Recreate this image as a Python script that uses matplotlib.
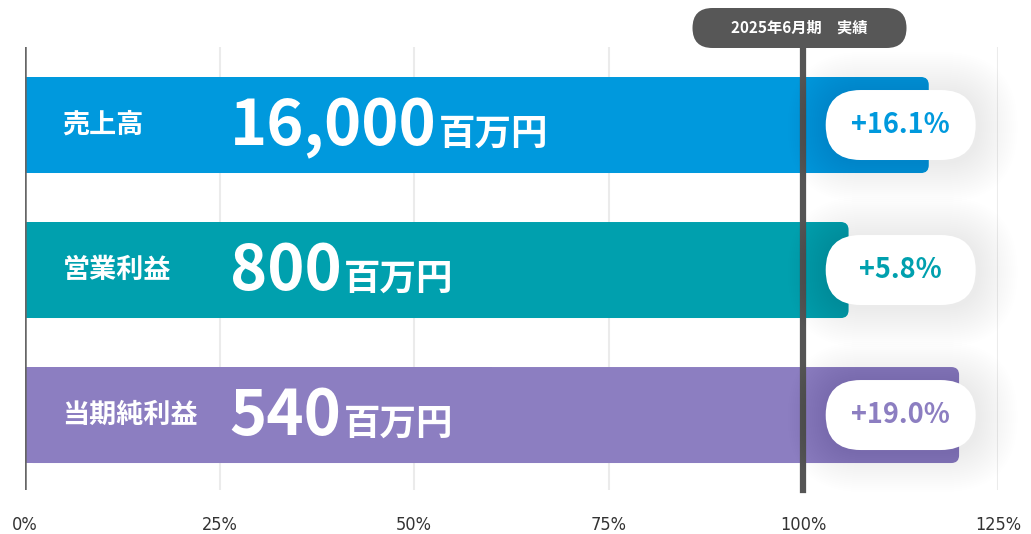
import matplotlib.pyplot as plt
from matplotlib.patches import FancyBboxPatch
from matplotlib.transforms import IdentityTransform
import numpy as np

plt.rcParams['font.family'] = ['Noto Sans CJK JP', 'DejaVu Sans']

# data
categories = ['売上高', '営業利益', '当期純利益']
bar_pct = [116.1, 105.8, 120.0]          # bar length (% of plan)
amounts = ['16,000', '800', '540']
unit = '百万円'
growth = ['+16.1%', '+5.8%', '+19.0%']
colors = ['#0099dd', '#00a0ae', '#8c7ec1']
xticks = [0, 25, 50, 75, 100, 125]
xtick_labels = ['0%', '25%', '50%', '75%', '100%', '125%']
badge_text = '2025年6月期\u3000実績'

W, H = 1031, 534
fig = plt.figure(figsize=(W / 100, H / 100), dpi=100)
ax = fig.add_axes([25 / W, 44 / H, 973 / W, 443 / H])
ax.set_xlim(0, 125)
ax.set_ylim(2.517, -0.538)
for s in ax.spines.values():
    s.set_visible(False)
ax.set_yticks([])
ax.set_xticks(xticks, xtick_labels, fontfamily='DejaVu Sans', fontstretch='condensed')
ax.tick_params(axis='x', length=0, pad=19, labelsize=13, labelcolor='#333333')
ax.set_axisbelow(True)
ax.xaxis.grid(True, color='#ebebeb', lw=1.5)

ypos = np.arange(len(categories))
rects = ax.barh(ypos, bar_pct, height=0.662, color=colors, zorder=2)

# rounded right end of the bars
asp = (3.055 / 443) / (125 / 973)
for r, c in zip(rects, colors):
    x0, y0 = r.get_xy()
    w, h = r.get_width(), r.get_height()
    r.set_width(w / 2)
    ax.add_patch(FancyBboxPatch((x0, y0), w, h, boxstyle='round,pad=0,rounding_size=1.0',
                                mutation_aspect=asp, fc=c, ec='none', zorder=2))

ax.axvline(0, color='#666666', lw=1.8, zorder=3)
ax.axvline(100, ymax=1.02, color='#555555', lw=4.5, zorder=3, clip_on=False)


def pill(cx, cy, w, h, **kw):
    p = FancyBboxPatch((cx - w / 2, cy - h / 2), w, h,
                       boxstyle=f'round,pad=0,rounding_size={h / 2}',
                       transform=IdentityTransform(), clip_on=False, **kw)
    ax.add_patch(p)


renderer = fig.canvas.get_renderer()
base = 0.138
for i, (cat, amt, g, c) in enumerate(zip(categories, amounts, growth, colors)):
    ax.text(4.8, i, cat, color='white', fontsize=19.5, fontweight='bold', va='center', zorder=4)
    t = ax.text(26.3, i + base, amt, color='white', fontsize=45.5, fontweight='bold',
                va='baseline', zorder=4)
    bb = t.get_window_extent(renderer)
    ux = ax.transData.inverted().transform((bb.x1 + 2, 0))[0]
    ax.text(ux, i + base, unit, color='white', fontsize=26.3, fontweight='bold',
            va='baseline', zorder=4)

    cx, cy = ax.transData.transform((112.5, i))
    for k in range(20, 0, -1):
        pill(cx + 2, cy - 2, 150 + 4 * k, 70 + 4 * k, fc='#000000', ec='none', alpha=0.0025, zorder=5)
    pill(cx, cy, 150, 70, fc='white', ec='none', zorder=6)
    ax.text(112.5, i, g, color=c, fontsize=19.5, fontweight='bold', ha='center', va='center', zorder=7)

# header badge above the 100% line
bx, _ = ax.transData.transform((99.5, 0))
by = H - 28
pill(bx, by, 214, 40, fc='#575757', ec='none', zorder=8)
ax.text(bx, by, badge_text, transform=IdentityTransform(), color='white', fontsize=11,
        fontweight='bold', ha='center', va='center', zorder=9, clip_on=False)

fig.savefig('out.png', dpi=100)
